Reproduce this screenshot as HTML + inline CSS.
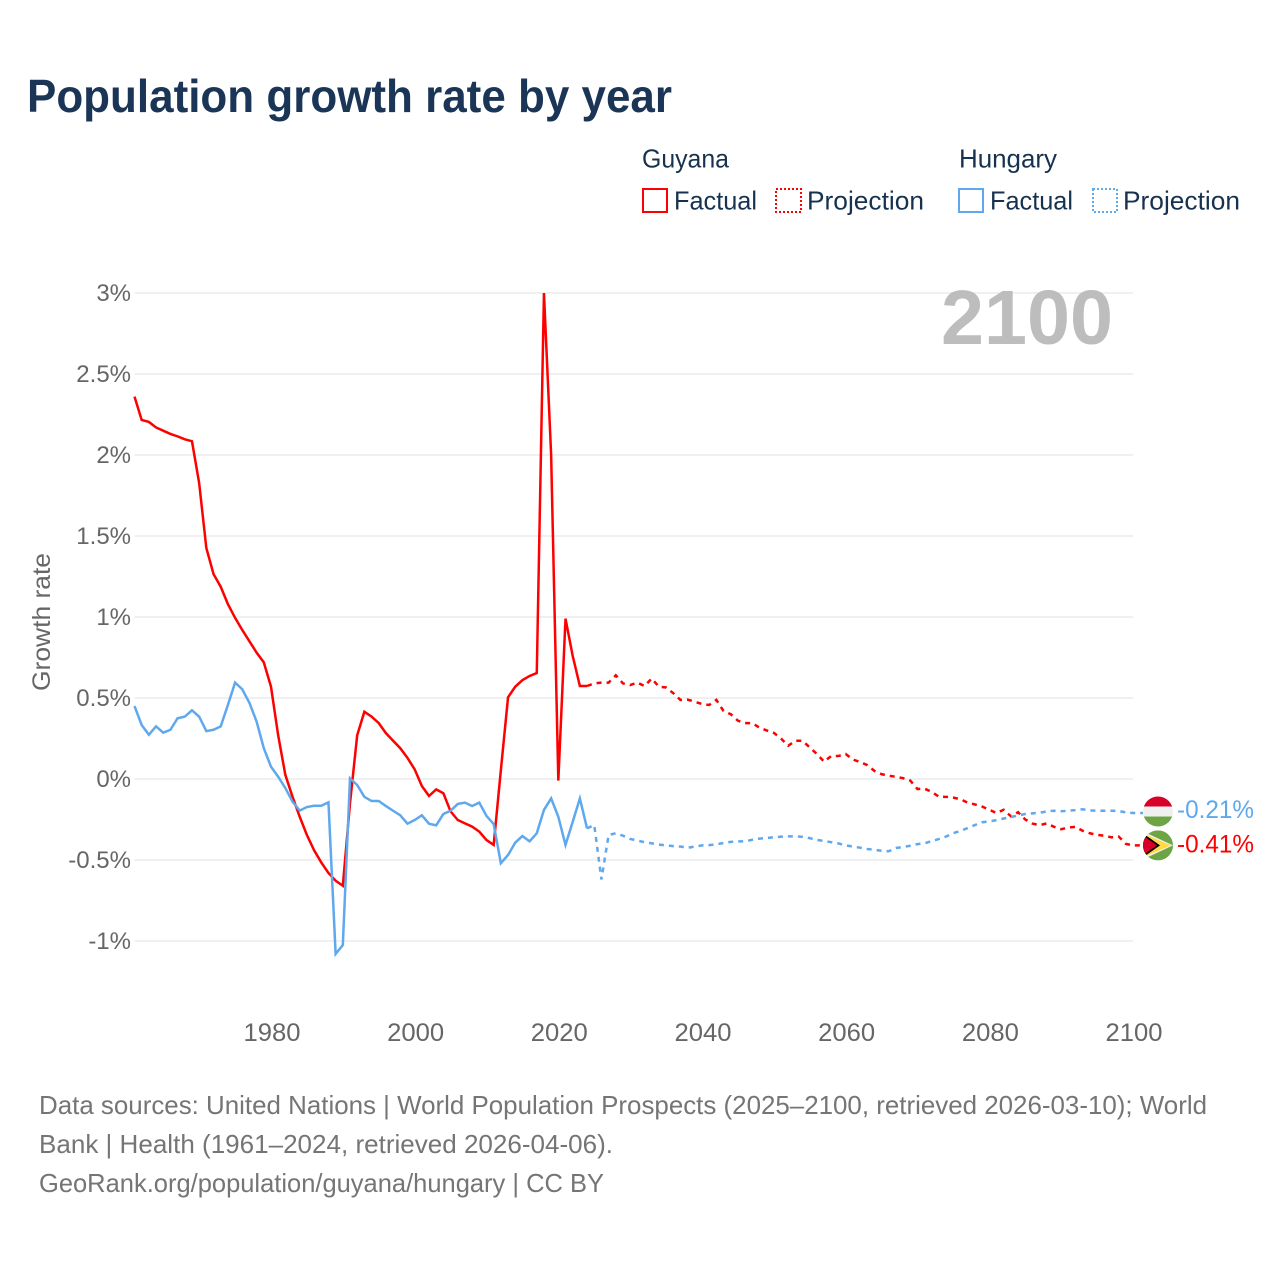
<!DOCTYPE html>
<html lang="en">
<head>
<meta charset="utf-8">
<title>Population growth rate by year</title>
<style>
  html, body { margin: 0; padding: 0; background: #ffffff; }
  svg { display: block; font-family: "Liberation Sans", sans-serif; }
</style>
</head>
<body>
<svg id="chart" xmlns="http://www.w3.org/2000/svg" width="1280" height="1280" viewBox="0 0 1280 1280">
  <rect x="0" y="0" width="1280" height="1280" fill="#ffffff"/>
  <text x="27" y="112" font-size="46" font-weight="700" fill="#1a3555" textLength="645" lengthAdjust="spacingAndGlyphs">Population growth rate by year</text>

  <g font-size="26" fill="#17324f">
    <text x="642" y="167.5" textLength="87" lengthAdjust="spacingAndGlyphs">Guyana</text>
    <text x="959" y="167.5" textLength="98" lengthAdjust="spacingAndGlyphs">Hungary</text>
    <g>
      <rect x="643" y="189" width="24" height="23" fill="none" stroke="#ff0000" stroke-width="2"/>
      <text x="674" y="209.5" textLength="83" lengthAdjust="spacingAndGlyphs">Factual</text>
    </g>
    <g>
      <rect x="776" y="189" width="25" height="23" fill="none" stroke="#ff0000" stroke-width="2" stroke-dasharray="2 2"/>
      <text x="807" y="209.5" textLength="117" lengthAdjust="spacingAndGlyphs">Projection</text>
    </g>
    <g>
      <rect x="959" y="189" width="24" height="23" fill="none" stroke="#5fa8ee" stroke-width="2"/>
      <text x="990" y="209.5" textLength="83" lengthAdjust="spacingAndGlyphs">Factual</text>
    </g>
    <g>
      <rect x="1093" y="189" width="24" height="23" fill="none" stroke="#5fa8ee" stroke-width="2" stroke-dasharray="2 2"/>
      <text x="1123" y="209.5" textLength="117" lengthAdjust="spacingAndGlyphs">Projection</text>
    </g>
  </g>

  <g id="grid"></g>
  <g id="y-ticks"></g>
  <g id="x-ticks"></g>

  <text transform="translate(50 622) rotate(-90)" text-anchor="middle" font-size="25" fill="#666666" textLength="138" lengthAdjust="spacingAndGlyphs">Growth rate</text>
  <text x="941" y="344" font-size="77" font-weight="700" fill="#bdbdbd" textLength="172" lengthAdjust="spacingAndGlyphs">2100</text>

  <g id="series"></g>

  <defs>
    <clipPath id="clip-flag-hu"><circle cx="0" cy="0" r="15"/></clipPath>
    <clipPath id="clip-flag-gy"><circle cx="0" cy="0" r="15"/></clipPath>
  </defs>

  <g id="flag-hungary">
    <g clip-path="url(#clip-flag-hu)">
      <rect x="-15" y="-15" width="30" height="10" fill="#d80027"/>
      <rect x="-15" y="-5" width="30" height="10" fill="#f0f0f0"/>
      <rect x="-15" y="5" width="30" height="10" fill="#6da544"/>
    </g>
  </g>
  <g id="flag-guyana">
    <g clip-path="url(#clip-flag-gy)">
      <rect x="-15" y="-15" width="30" height="30" fill="#6da544"/>
      <polygon points="-15,-14 15,0 -15,14" fill="#f0f0f0"/>
      <polygon points="-15,-12 13,0 -15,12" fill="#ffda44"/>
      <polygon points="-15,-12 2,0 -15,12" fill="#000000"/>
      <polygon points="-15,-10 -1,0 -15,10" fill="#d80027"/>
    </g>
  </g>
  <text id="end-label-hungary" x="1177" font-size="25" fill="#5fa8ee" textLength="77" lengthAdjust="spacingAndGlyphs">-0.21%</text>
  <text id="end-label-guyana" x="1177" font-size="25" fill="#ff0000" textLength="77" lengthAdjust="spacingAndGlyphs">-0.41%</text>

  <g font-size="26" fill="#757575">
    <text x="39" y="1114" textLength="1168" lengthAdjust="spacingAndGlyphs">Data sources: United Nations | World Population Prospects (2025–2100, retrieved 2026-03-10); World</text>
    <text x="39" y="1153" textLength="574" lengthAdjust="spacingAndGlyphs">Bank | Health (1961–2024, retrieved 2026-04-06).</text>
    <text x="39" y="1192" textLength="565" lengthAdjust="spacingAndGlyphs">GeoRank.org/population/guyana/hungary | CC BY</text>
  </g>
</svg>

<script>
const factualStartYear = 1961;
const projectionStartYear = 2024;

const guyanaFactual = [2.36,2.216,2.204,2.17,2.15,2.13,2.115,2.097,2.085,1.827,1.426,1.265,1.187,1.08,0.995,0.92,0.85,0.78,0.72,0.57,0.27,0.025,-0.11,-0.233,-0.346,-0.44,-0.515,-0.58,-0.628,-0.659,-0.15,0.27,0.415,0.385,0.345,0.283,0.236,0.19,0.13,0.06,-0.043,-0.105,-0.064,-0.088,-0.2,-0.253,-0.274,-0.294,-0.325,-0.377,-0.407,0.055,0.504,0.57,0.61,0.636,0.654,3.0,2.0,-0.01,0.99,0.76,0.574,0.574];
const guyanaProjection = [0.574,0.59,0.595,0.595,0.64,0.59,0.58,0.595,0.574,0.62,0.57,0.565,0.53,0.488,0.49,0.477,0.463,0.457,0.488,0.42,0.40,0.36,0.345,0.345,0.317,0.30,0.285,0.25,0.205,0.236,0.236,0.195,0.154,0.107,0.142,0.142,0.154,0.12,0.105,0.086,0.05,0.03,0.02,0.014,0.005,-0.01,-0.062,-0.06,-0.08,-0.11,-0.11,-0.115,-0.125,-0.146,-0.157,-0.17,-0.19,-0.21,-0.19,-0.23,-0.205,-0.25,-0.275,-0.285,-0.274,-0.295,-0.31,-0.30,-0.295,-0.32,-0.335,-0.345,-0.35,-0.36,-0.355,-0.40,-0.41];
const hungaryFactual = [0.45,0.333,0.273,0.325,0.286,0.304,0.375,0.385,0.424,0.385,0.296,0.304,0.325,0.457,0.595,0.554,0.47,0.354,0.19,0.076,0.014,-0.056,-0.14,-0.195,-0.173,-0.165,-0.165,-0.144,-1.08,-1.025,0.004,-0.037,-0.11,-0.136,-0.136,-0.167,-0.196,-0.224,-0.276,-0.253,-0.224,-0.276,-0.286,-0.216,-0.196,-0.154,-0.146,-0.167,-0.146,-0.228,-0.278,-0.52,-0.469,-0.393,-0.352,-0.385,-0.335,-0.191,-0.12,-0.233,-0.407,-0.265,-0.12,-0.305];
const hungaryProjection = [-0.305,-0.284,-0.62,-0.346,-0.335,-0.35,-0.37,-0.38,-0.39,-0.397,-0.405,-0.41,-0.414,-0.417,-0.425,-0.417,-0.41,-0.408,-0.403,-0.395,-0.388,-0.385,-0.385,-0.375,-0.368,-0.364,-0.36,-0.356,-0.354,-0.354,-0.357,-0.365,-0.376,-0.383,-0.39,-0.398,-0.41,-0.417,-0.424,-0.432,-0.437,-0.443,-0.446,-0.426,-0.42,-0.412,-0.402,-0.397,-0.383,-0.37,-0.355,-0.334,-0.32,-0.303,-0.284,-0.267,-0.262,-0.254,-0.244,-0.235,-0.225,-0.216,-0.212,-0.208,-0.2,-0.196,-0.199,-0.196,-0.192,-0.187,-0.194,-0.196,-0.196,-0.196,-0.198,-0.206,-0.21];

const yTickValues = [3,2.5,2,1.5,1,0.5,0,-0.5,-1];
const yTickLabels = ["3%","2.5%","2%","1.5%","1%","0.5%","0%","-0.5%","-1%"];
const xTickValues = [1980,2000,2020,2040,2060,2080,2100];
const xTickLabels = ["1980","2000","2020","2040","2060","2080","2100"];

const SVG_NS = "http://www.w3.org/2000/svg";
const plotLeft = 134.5, plotRight = 1133;
const domainStart = 1961, domainEnd = 2100;
const yZero = 779, yUnit = 162;

function xScale(year) {
  return plotLeft + (year - domainStart) * (plotRight - plotLeft) / (domainEnd - domainStart);
}
function yScale(value) {
  return yZero - value * yUnit;
}
function seriesPath(values, startYear, extra) {
  let d = values.map(function (v, i) {
    return (i === 0 ? "M" : "L") + xScale(startYear + i).toFixed(2) + " " + yScale(v).toFixed(2);
  }).join(" ");
  if (extra) d += " " + extra;
  return d;
}

const gridGroup = document.getElementById("grid");
const yGroup = document.getElementById("y-ticks");
yTickValues.forEach(function (v, i) {
  const line = document.createElementNS(SVG_NS, "line");
  
  
  line.setAttribute("x1", plotLeft);
  line.setAttribute("x2", plotRight);
  line.setAttribute("y1", yScale(v));
  line.setAttribute("y2", yScale(v));
  line.setAttribute("stroke", "#ebebeb");
  line.setAttribute("stroke-width", "1.5");
  gridGroup.appendChild(line);

  const label = document.createElementNS(SVG_NS, "text");
  
  
  label.setAttribute("x", 131);
  label.setAttribute("y", yScale(v) + 8);
  label.setAttribute("text-anchor", "end");
  label.setAttribute("font-size", "24");
  label.setAttribute("fill", "#666666");
  label.textContent = yTickLabels[i];
  yGroup.appendChild(label);
});

const xGroup = document.getElementById("x-ticks");
xTickValues.forEach(function (v, i) {
  const label = document.createElementNS(SVG_NS, "text");
  
  
  label.setAttribute("x", xScale(v) + 1);
  label.setAttribute("y", 1041);
  label.setAttribute("text-anchor", "middle");
  label.setAttribute("font-size", "25");
  label.setAttribute("fill", "#666666");
  label.setAttribute("textLength", "57");
  label.setAttribute("lengthAdjust", "spacingAndGlyphs");
  label.textContent = xTickLabels[i];
  xGroup.appendChild(label);
});

const seriesGroup = document.getElementById("series");
const leaderEndX = 1143;
const flagOffset = -1.5;
const guyanaLast = guyanaProjection[guyanaProjection.length - 1];
const hungaryLast = hungaryProjection[hungaryProjection.length - 1];

const guyanaFactualLine = document.createElementNS(SVG_NS, "path");


guyanaFactualLine.setAttribute("d", seriesPath(guyanaFactual, factualStartYear));
guyanaFactualLine.setAttribute("fill", "none");
guyanaFactualLine.setAttribute("stroke", "#ff0000");
guyanaFactualLine.setAttribute("stroke-width", "2.5");
guyanaFactualLine.setAttribute("stroke-linejoin", "miter");
seriesGroup.appendChild(guyanaFactualLine);

const guyanaProjectionLine = document.createElementNS(SVG_NS, "path");


guyanaProjectionLine.setAttribute("d", seriesPath(guyanaProjection, projectionStartYear, "L" + leaderEndX + " " + yScale(guyanaLast).toFixed(2)));
guyanaProjectionLine.setAttribute("fill", "none");
guyanaProjectionLine.setAttribute("stroke", "#ff0000");
guyanaProjectionLine.setAttribute("stroke-width", "2.5");
guyanaProjectionLine.setAttribute("stroke-dasharray", "5 5");
seriesGroup.appendChild(guyanaProjectionLine);

const hungaryFactualLine = document.createElementNS(SVG_NS, "path");


hungaryFactualLine.setAttribute("d", seriesPath(hungaryFactual, factualStartYear));
hungaryFactualLine.setAttribute("fill", "none");
hungaryFactualLine.setAttribute("stroke", "#5fa8ee");
hungaryFactualLine.setAttribute("stroke-width", "2.5");
seriesGroup.appendChild(hungaryFactualLine);

const hungaryProjectionLine = document.createElementNS(SVG_NS, "path");


hungaryProjectionLine.setAttribute("d", seriesPath(hungaryProjection, projectionStartYear, "L" + leaderEndX + " " + yScale(hungaryLast).toFixed(2)));
hungaryProjectionLine.setAttribute("fill", "none");
hungaryProjectionLine.setAttribute("stroke", "#5fa8ee");
hungaryProjectionLine.setAttribute("stroke-width", "2.5");
hungaryProjectionLine.setAttribute("stroke-dasharray", "5 5");
seriesGroup.appendChild(hungaryProjectionLine);

const flagX = 1158;
document.getElementById("flag-hungary").setAttribute("transform", "translate(" + flagX + " " + (yScale(hungaryLast) + flagOffset) + ")");
document.getElementById("flag-guyana").setAttribute("transform", "translate(" + flagX + " " + yScale(guyanaLast) + ")");
document.getElementById("end-label-hungary").setAttribute("y", yScale(hungaryLast) + 5);
document.getElementById("end-label-guyana").setAttribute("y", yScale(guyanaLast) + 7);
</script>
</body>
</html>
